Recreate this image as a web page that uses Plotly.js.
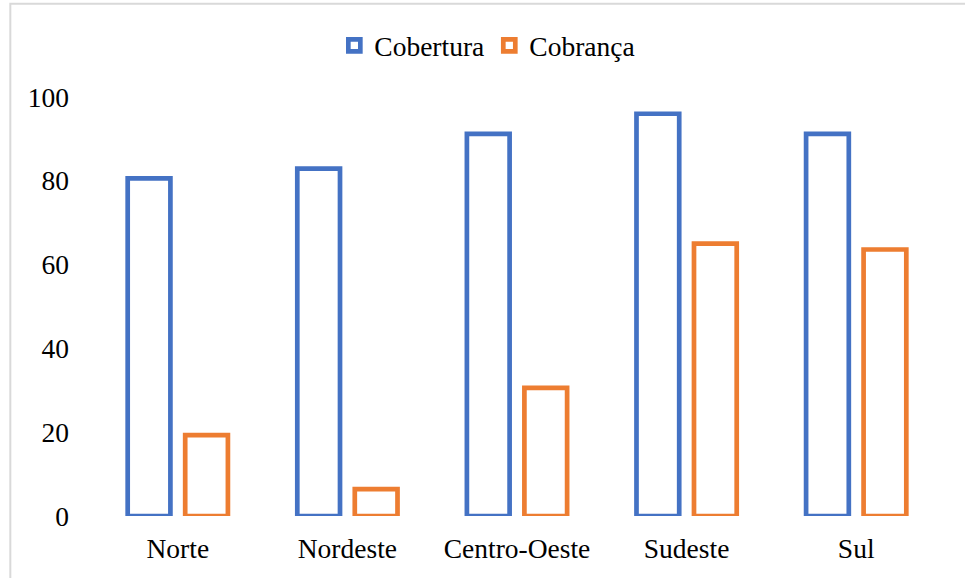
<!DOCTYPE html>
<html>
<head>
<meta charset="utf-8">
<script src="https://cdn.plot.ly/plotly-3.0.1.min.js"></script>
<style>
  html, body { margin: 0; padding: 0; background: #ffffff; }
  #chart { width: 965px; height: 578px; }
</style>
</head>
<body>
<div id="chart"></div>
<script>
const regioes = ["Norte", "Nordeste", "Centro-Oeste", "Sudeste", "Sul"];
const cobertura = [80.6, 82.9, 91.2, 96.0, 91.2];
const cobranca = [19.3, 6.4, 30.6, 65.0, 63.6];
const yTicks = [0, 20, 40, 60, 80, 100];

const FONT = "Liberation Serif";
const BLUE = "#4472C4";
const ORANGE = "#ED7D31";

const traces = [
  {
    type: "bar", name: "Cobertura", x: regioes, y: cobertura,
    marker: { color: "rgba(255,255,255,1)", line: { color: BLUE, width: 4.7 } },
    hoverinfo: "x+y"
  },
  {
    type: "bar", name: "Cobrança", x: regioes, y: cobranca,
    marker: { color: "rgba(255,255,255,1)", line: { color: ORANGE, width: 4.7 } },
    hoverinfo: "x+y"
  }
];

const layout = {
  width: 965, height: 578,
  paper_bgcolor: "#ffffff", plot_bgcolor: "#ffffff",
  font: { family: FONT, size: 27.5, color: "#000000" },
  margin: { l: 92.6, r: 23.8, t: 97.3, b: 62, pad: 0 },
  barmode: "group",
  bargap: 0.322,
  bargroupgap: 0.257,
  showlegend: true,
  legend: {
    orientation: "h",
    xref: "container", yref: "container",
    x: 0.505, xanchor: "center",
    y: 1 - 45.5 / 578, yanchor: "middle",
    font: { family: FONT, size: 27.5, color: "#000000" },
    bgcolor: "rgba(0,0,0,0)",
    traceorder: "normal"
  },
  xaxis: {
    type: "category",
    showgrid: false, zeroline: false, showline: false,
    ticks: "", ticklabelstandoff: 13,
    tickfont: { family: FONT, size: 27.5, color: "#000000" }
  },
  yaxis: {
    range: [0, 100],
    tickvals: yTicks,
    ticktext: yTicks.map(String),
    showgrid: false, zeroline: false, showline: false,
    ticks: "", ticklabelstandoff: 23,
    tickfont: { family: FONT, size: 27.5, color: "#000000" }
  },
  shapes: [
    {
      type: "rect", xref: "paper", yref: "paper",
      x0: -0.0975, x1: 1.2, y0: -0.3, y1: 1.2225,
      line: { color: "#d9d9d9", width: 2 },
      fillcolor: "rgba(0,0,0,0)", layer: "below"
    }
  ]
};

Plotly.newPlot("chart", traces, layout, { displayModeBar: false, staticPlot: true });
</script>
</body>
</html>
